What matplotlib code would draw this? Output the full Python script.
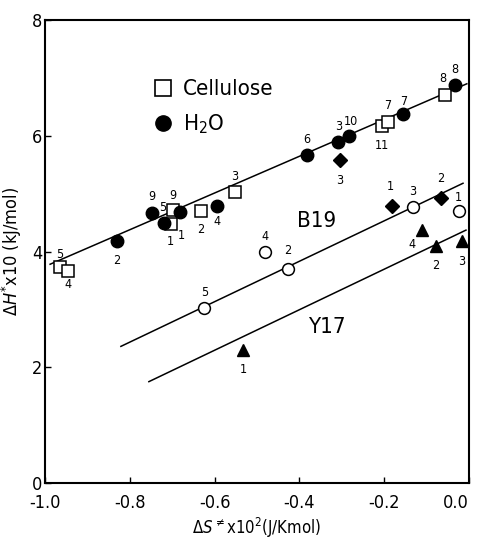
import numpy as np
import matplotlib
matplotlib.use('Agg')
import matplotlib.pyplot as plt
from matplotlib.lines import Line2D

plt.rcParams['font.family'] = ['DejaVu Sans']
plt.rcParams['font.stretch'] = 'condensed'

# Cellulose (open squares)
cell_x = [-0.965, -0.946, -0.704, -0.699, -0.633, -0.553, -0.205, -0.191, -0.056]
cell_y = [3.73, 3.67, 4.47, 4.71, 4.70, 5.03, 6.17, 6.24, 6.71]
cell_lab = ['5', '4', '1', '9', '2', '3', '11', '7', '8']

# H2O (filled circles)
h2o_x = [-0.831, -0.748, -0.720, -0.682, -0.595, -0.383, -0.308, -0.282, -0.155, -0.033]
h2o_y = [4.18, 4.66, 4.49, 4.69, 4.79, 5.67, 5.89, 6.00, 6.38, 6.88]
h2o_lab = ['2', '9', '5', '1', '4', '6', '3', '10', '7', '8']

# filled diamonds
dia_x = [-0.304, -0.181, -0.066]
dia_y = [5.58, 4.78, 4.92]
dia_lab = ['3', '1', '2']

# B19 (open circles)
b19_x = [-0.624, -0.480, -0.428, -0.132, -0.024]
b19_y = [3.03, 3.99, 3.69, 4.77, 4.70]
b19_lab = ['5', '4', '2', '3', '1']

# Y17 (filled triangles)
y17_x = [-0.532, -0.111, -0.078, -0.016]
y17_y = [2.30, 4.38, 4.09, 4.19]
y17_lab = ['1', '4', '2', '3']

# fitted lines: (x start, x end), (y start, y end)
line_top = ([-0.988, -0.005], [3.78, 6.90])
line_b19 = ([-0.821, -0.014], [2.36, 5.18])
line_y17 = ([-0.755, -0.007], [1.75, 4.37])

x_ticks = [-1.0, -0.8, -0.6, -0.4, -0.2, 0.0]
x_ticklabels = ['-1.0', '-0.8', '-0.6', '-0.4', '-0.2', '0.0']
y_ticks = [0, 2, 4, 6, 8]

# label offsets in points
cell_off = [(0, 9), (0, -10), (0, -12), (0, 11), (0, -13), (0, 11), (0, -14), (0, 12), (-2, 12)]
h2o_off = [(0, -14), (0, 12), (-1, 11), (1, -17), (0, -11), (0, 11), (0, 11), (1, 10), (0, 9), (0, 11)]
dia_off = [(0, -15), (-1, 14), (0, 14)]
b19_off = [(0, 11), (0, 11), (0, 14), (0, 11), (0, 10)]
y17_off = [(0, -14), (-7, -11), (0, -14), (0, -15)]

fig = plt.figure(figsize=(4.79, 5.45), dpi=100)
ax = fig.add_axes([0.094, 0.114, 0.885, 0.849])

lw = 1.1
ax.plot(*line_top, color='black', lw=lw, zorder=1)
ax.plot(*line_b19, color='black', lw=lw, zorder=1)
ax.plot(*line_y17, color='black', lw=lw, zorder=1)

ax.plot(cell_x, cell_y, 's', ms=8, mfc='white', mec='black', mew=1.1, ls='none', zorder=3)
ax.plot(h2o_x, h2o_y, 'o', ms=9, color='black', ls='none', zorder=3)
ax.plot(dia_x, dia_y, 'D', ms=7, color='black', ls='none', zorder=3)
ax.plot(b19_x, b19_y, 'o', ms=8.5, mfc='white', mec='black', mew=1.1, ls='none', zorder=3)
ax.plot(y17_x, y17_y, '^', ms=8.5, color='black', ls='none', zorder=3)

def label_points(xs, ys, labs, offs):
    for x, y, s, (dx, dy) in zip(xs, ys, labs, offs):
        ax.annotate(s, (x, y), xytext=(dx, dy), textcoords='offset points',
                    ha='center', va='center', fontsize=9)

label_points(cell_x, cell_y, cell_lab, cell_off)
label_points(h2o_x, h2o_y, h2o_lab, h2o_off)
label_points(dia_x, dia_y, dia_lab, dia_off)
label_points(b19_x, b19_y, b19_lab, b19_off)
label_points(y17_x, y17_y, y17_lab, y17_off)

ax.text(-0.36, 4.52, 'B19', fontsize=16, ha='center', va='center')
ax.text(-0.334, 2.69, 'Y17', fontsize=16, ha='center', va='center')

handles = [
    Line2D([], [], marker='s', ms=11, mfc='white', mec='black', mew=1.2, ls='none'),
    Line2D([], [], marker='o', ms=11, color='black', ls='none'),
]
ax.legend(handles, ['Cellulose', r'H$_2$O'], loc='upper left', bbox_to_anchor=(0.205, 0.915),
          frameon=False, fontsize=16, handlelength=1.0, handletextpad=0.4, labelspacing=0.6)

ax.set_xlim(-1.0, 0.0)
ax.set_ylim(0, 8)
ax.set_xticks(x_ticks)
ax.set_xticklabels(x_ticklabels)
ax.set_yticks(y_ticks)
ax.tick_params(direction='in', length=4, width=1, labelsize=13)
ax.tick_params(axis='y', pad=2)
ax.tick_params(axis='x', pad=8)
ax.get_xticklabels()[-1].set_horizontalalignment('right')
for sp in ax.spines.values():
    sp.set_linewidth(1.5)

ax.set_xlabel(r'$\Delta S^{\neq}$x10$^2$(J/Kmol)', fontsize=12, labelpad=3)
ax.set_ylabel(r'$\Delta H^{*}$x10 (kJ/mol)', fontsize=13, labelpad=6)

fig.savefig('out.png', dpi=100)
